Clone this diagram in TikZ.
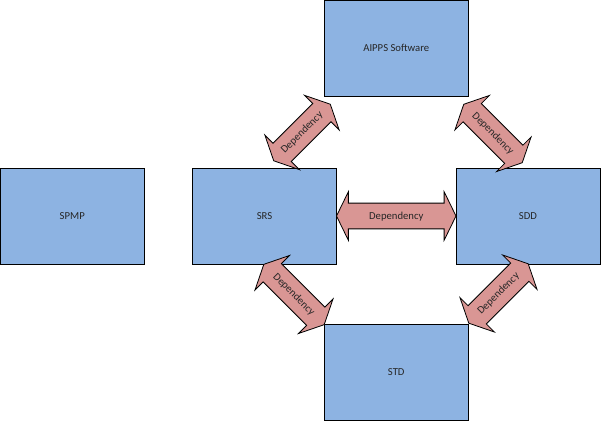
\documentclass[tikz,border=0pt]{standalone}
\usepackage{fontspec}
\setmainfont{Carlito}
\usetikzlibrary{shapes.arrows}
\definecolor{boxblue}{RGB}{141,179,226}
\definecolor{deppink}{RGB}{217,150,148}
\begin{document}
\begin{tikzpicture}[x=0.75pt,y=-0.75pt,font=\fontsize{8}{9.6}\selectfont,text=black!85,
  box/.style={draw,line width=0.75pt,fill=boxblue,minimum width=108pt,minimum height=72pt,inner sep=0pt},
  dep/.style={draw,line width=0.6pt,fill=deppink,double arrow,double arrow head extend=8.6pt,
    double arrow tip angle=128,text height=6pt,text depth=1.5pt,inner ysep=5.6pt,inner xsep=0pt,
    minimum width=36pt,minimum height=62pt}]
\useasboundingbox (0,0) rectangle (601,421);
\node[box](spmp) at (72.25,216) {SPMP}; \node[box](srs) at (264.5,216) {SRS}; \node[box](sdd) at (528,216) {SDD};
\node[box](aipps) at (396.25,48) {AIPPS Software}; \node[box](std) at (396.25,372) {STD};
% dependency arrows
\node[dep,minimum height=89.6pt](srssdd) at (396.25,216) {Dependency};
\node[dep,rotate=45,minimum height=60pt](srsaipps) at (302,132.5) {Dependency};
\node[dep,rotate=-45](aippssdd) at (493,133.5) {Dependency};
\node[dep,rotate=-45,minimum height=64pt](srsstd) at (294,294.5) {Dependency};
\node[dep,rotate=45,minimum height=63pt](stdsdd) at (498.5,293.5) {Dependency};
\end{tikzpicture}
\end{document}
